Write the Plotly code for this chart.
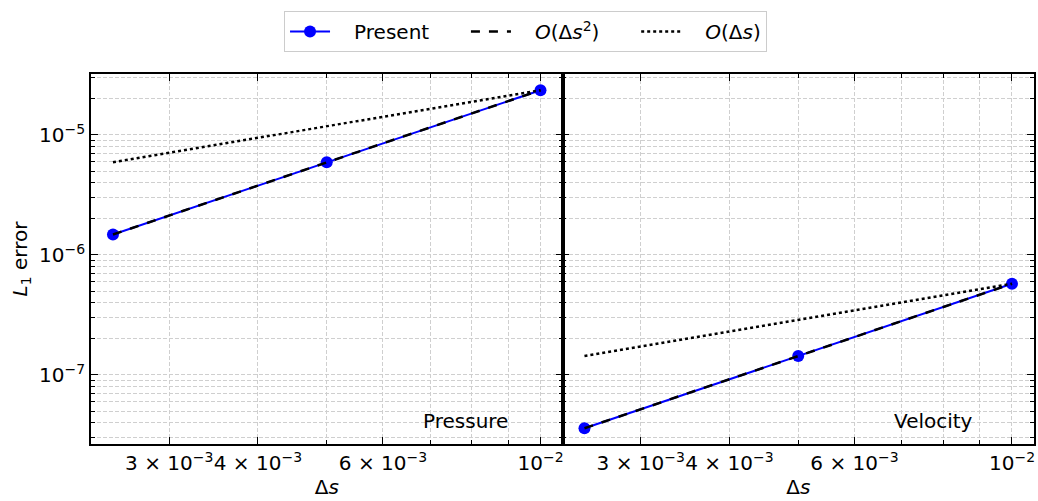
import numpy as np
import plotly.graph_objects as go
from plotly.subplots import make_subplots

ds = [0.0025, 0.005, 0.01]
pressure_err = [1.48e-6, 5.92e-6, 2.36e-5]
pressure_o2 = [1.48e-6, 5.92e-6, 2.36e-5]
pressure_o1_x = [0.0025, 0.01]
pressure_o1 = [5.92e-6, 2.36e-5]
velocity_err = [3.6e-8, 1.44e-7, 5.75e-7]
velocity_o2 = [3.6e-8, 1.44e-7, 5.75e-7]
velocity_o1_x = [0.0025, 0.01]
velocity_o1 = [1.44e-7, 5.75e-7]
panel_labels = ["Pressure", "Velocity"]
legend_names = ["Present", "<i>O</i>(Δ<i>s</i><sup>2</sup>)", "<i>O</i>(Δ<i>s</i>)"]

x_tickvals = [0.003, 0.004, 0.006, 0.01]
x_ticktext = ["3 × 10<sup>−3</sup>", "4 × 10<sup>−3</sup>", "6 × 10<sup>−3</sup>", "10<sup>−2</sup>"]
x_minor = [0.002, 0.005, 0.007, 0.008, 0.009]
y_tickvals = [1e-7, 1e-6, 1e-5]
y_ticktext = ["10<sup>−7</sup>", "10<sup>−6</sup>", "10<sup>−5</sup>"]
y_minor = [m * 10.0 ** e for e in (-8, -7, -6, -5) for m in range(2, 10)]

FONT = "DejaVu Sans"
BLUE = "#0000ff"
GRID = "#cfcfcf"
NB = "\u00a0"

# padded legend labels (lead gap after the sample, trailing gap before next entry)
pads = [(3, 5), (3, 5), (3, 0)]
legend_labels = [NB * a + n + NB * b for n, (a, b) in zip(legend_names, pads)]

fig = make_subplots(rows=1, cols=2, shared_yaxes=True, horizontal_spacing=0.0)

panels = [
    (pressure_err, pressure_o2, pressure_o1_x, pressure_o1),
    (velocity_err, velocity_o2, velocity_o1_x, velocity_o1),
]
for i, (err, o2, o1x, o1) in enumerate(panels):
    col = i + 1
    show = i == 0
    fig.add_trace(go.Scatter(x=ds, y=err, mode="lines+markers", name=legend_labels[0],
                             line=dict(color=BLUE, width=2),
                             marker=dict(color=BLUE, size=12),
                             showlegend=show, legendrank=1), row=1, col=col)
    fig.add_trace(go.Scatter(x=ds, y=o2, mode="lines", name=legend_labels[1],
                             line=dict(color="black", width=2.5, dash="dash"),
                             showlegend=show, legendrank=2), row=1, col=col)
    fig.add_trace(go.Scatter(x=o1x, y=o1, mode="lines", name=legend_labels[2],
                             line=dict(color="black", width=2.5, dash="dot"),
                             showlegend=show, legendrank=3), row=1, col=col)

axis_common = dict(
    showline=True, linecolor="black", linewidth=1.8, mirror="ticks",
    ticks="inside", ticklen=7, tickwidth=1.3, tickcolor="black",
    showgrid=True, gridcolor=GRID, gridwidth=0.8, griddash="4px,2px",
    zeroline=False, automargin=False,
    tickfont=dict(family=FONT, size=20, color="black"),
)
minor_common = dict(tickmode="array", ticks="inside", ticklen=4,
                    tickcolor="black", tickwidth=1, showgrid=True,
                    gridcolor=GRID, gridwidth=0.8, griddash="4px,2px")

for col in (1, 2):
    fig.update_xaxes(
        type="log", range=[-2.633, -1.969], tickangle=0,
        tickmode="array", tickvals=x_tickvals, ticktext=x_ticktext,
        minor=dict(tickvals=x_minor, **minor_common),
        title=dict(text="Δ<i>s</i>", font=dict(family=FONT, size=20, color="black"), standoff=2),
        **axis_common, row=1, col=col)
    fig.update_yaxes(
        type="log", range=[-7.575, -4.492],
        tickmode="array", tickvals=y_tickvals, ticktext=y_ticktext,
        minor=dict(tickvals=y_minor, **minor_common),
        **axis_common, row=1, col=col)

fig.update_yaxes(title=dict(text="<i>L</i><sub>1</sub> error",
                            font=dict(family=FONT, size=20, color="black"), standoff=6),
                 row=1, col=1)
fig.update_yaxes(showticklabels=False, row=1, col=2)

for i, (lbl, xpos) in enumerate(zip(panel_labels, [0.795, 0.786])):
    xref = "x domain" if i == 0 else "x2 domain"
    yref = "y domain" if i == 0 else "y2 domain"
    fig.add_annotation(text=lbl, x=xpos, y=0.062, xref=xref, yref=yref,
                       xanchor="center", yanchor="middle", showarrow=False,
                       font=dict(family=FONT, size=20, color="black"))

fig.update_layout(
    width=1038, height=501,
    margin=dict(l=91, r=4, t=74, b=57, autoexpand=False),
    paper_bgcolor="white", plot_bgcolor="white",
    font=dict(family=FONT, size=19, color="black"),
    legend=dict(orientation="h", x=0.4608, xanchor="center", y=1.17, yanchor="top",
                bordercolor="#cccccc", borderwidth=1, bgcolor="white",
                font=dict(family=FONT, size=20, color="black"),
                itemwidth=40, traceorder="normal"),
    showlegend=True,
)

fig.write_html("out.html", config={"displayModeBar": False},
               post_script="document.body.style.margin='0';document.body.style.overflow='hidden';")
